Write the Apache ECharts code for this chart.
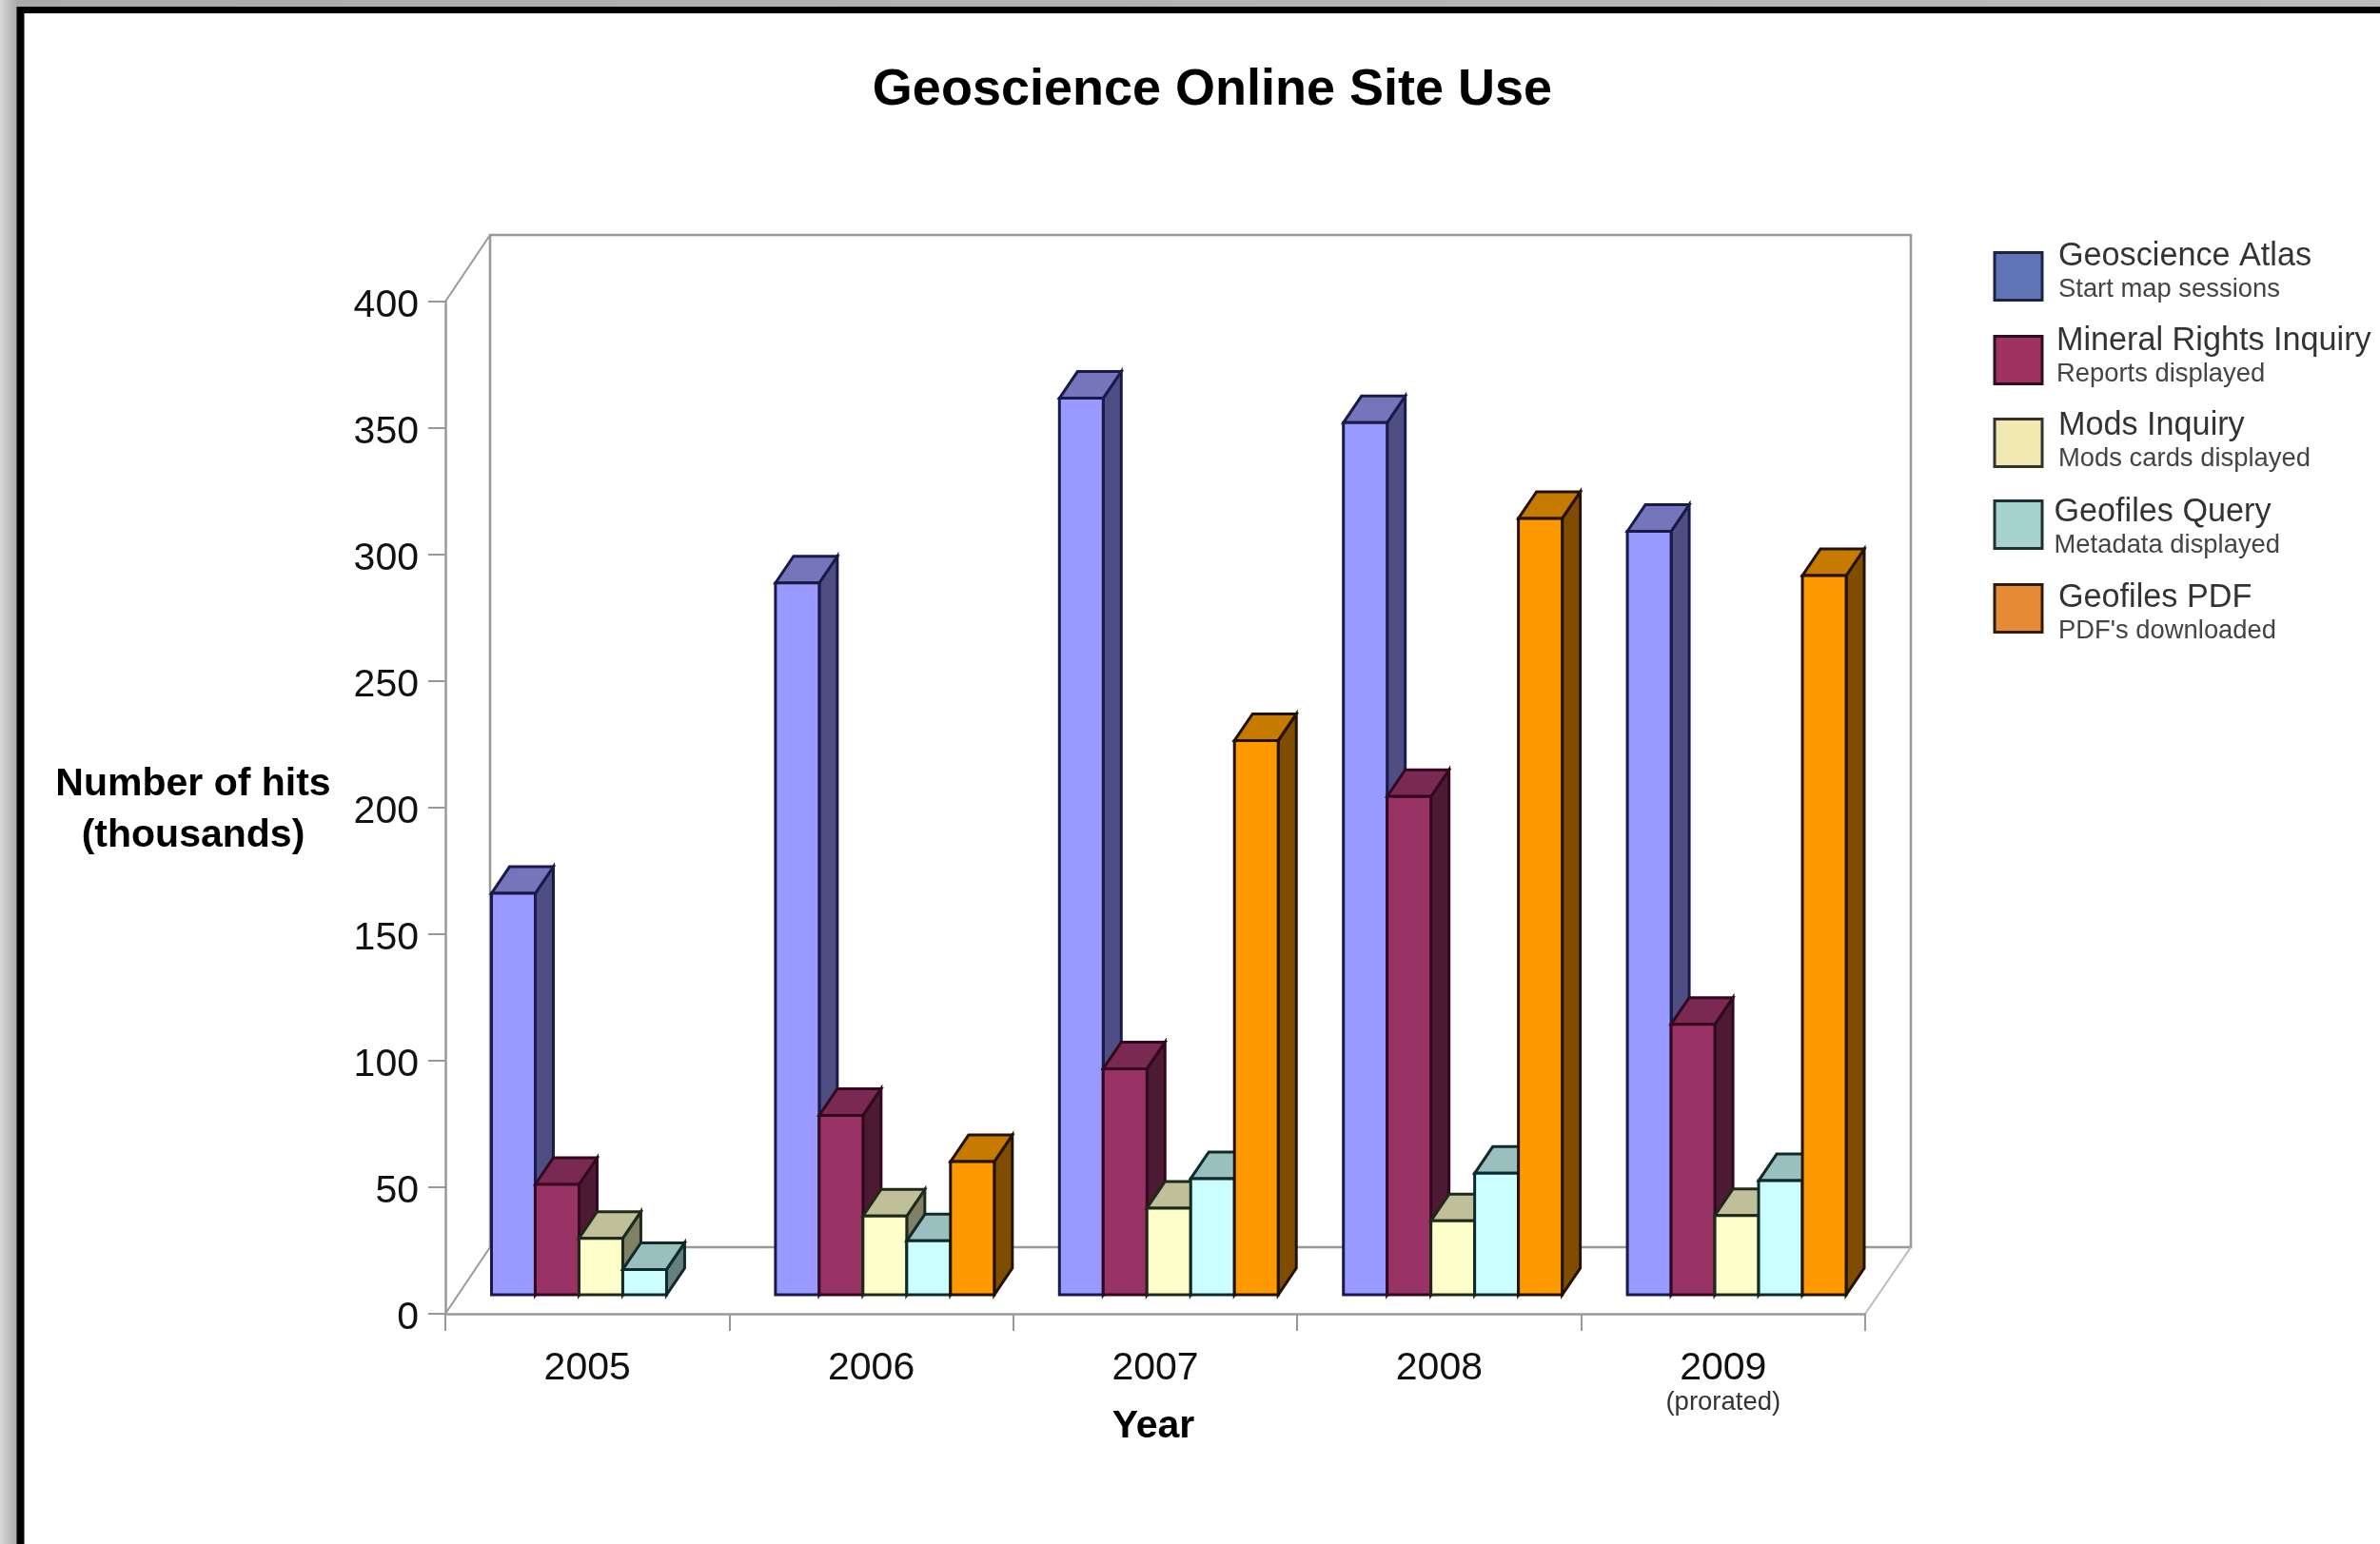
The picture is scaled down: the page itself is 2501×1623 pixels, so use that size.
<!DOCTYPE html>
<html>
<head>
<meta charset="utf-8">
<style>html,body{margin:0;padding:0;background:#fff}#c{width:2501px;height:1623px}</style>
<script src="https://cdn.jsdelivr.net/npm/echarts@6/dist/echarts.min.js"></script>
</head>
<body>
<div id="c"></div>
<script>
// ---- data ----
const titleText = 'Geoscience Online Site Use';
const categories = ['2005', '2006', '2007', '2008', '2009'];
const categoryNotes = { '2009': '(prorated)' };
const seriesNames = ['Geoscience Atlas', 'Mineral Rights Inquiry', 'Mods Inquiry', 'Geofiles Query', 'Geofiles PDF'];
const seriesNotes = ['Start map sessions', 'Reports displayed', 'Mods cards displayed', 'Metadata displayed', "PDF's downloaded"];
const atlas    = [158.6, 281.3, 354.3, 344.6, 301.7];
const mineral  = [43.6, 70.9, 89.3, 196.9, 106.9];
const mods     = [22.3, 31.1, 34.2, 29.2, 31.3];
const geoQuery = [10.0, 21.3, 45.9, 48.0, 45.1];
const geoPdf   = [null, 52.6, 219.0, 306.8, 284.2];
const yMin = 0, yMax = 400, yStep = 50;
const yNameLines = ['Number of hits', '(thousands)'];
const xName = 'Year';

// ---- styling ----
const seriesValues = [atlas, mineral, mods, geoQuery, geoPdf];
const FONT = '"Liberation Sans", Arial, sans-serif';
const faces = [
  { front: '#9999FF', top: '#7575BC', side: '#4E4E82', edge: '#1A1A4A' },
  { front: '#993366', top: '#7A2952', side: '#4D1A33', edge: '#33081E' },
  { front: '#FFFFCC', top: '#BFBF99', side: '#808066', edge: '#1E2A18' },
  { front: '#CCFFFF', top: '#99BFBF', side: '#668080', edge: '#0E2A2A' },
  { front: '#FF9900', top: '#C67A00', side: '#7F4C00', edge: '#241200' }
];
const swatches = [
  { color: '#6074B6', border: '#1C2444' },
  { color: '#A03262', border: '#2C1020' },
  { color: '#F0EAB2', border: '#33332A' },
  { color: '#A6D2D0', border: '#203034' },
  { color: '#E68A36', border: '#301A08' }
];
const AXIS = '#999999';
const BAR_RATIO = 46 / 298.5, DX = 19, DY = 28;
const rowCenter = [289, 377, 464, 551, 639];
const rowNudge = [3, 3, 3, 8, 12];
const textShift = [-4.5, -4, -1.5, 3, 5];
const textInset = [12, 10, 12, 7.5, 12];
const TEXT_H = 69;

function cuboid(seriesIdx) {
  return function (params, api) {
    const v = api.value(1);
    if (v == null || isNaN(v)) return;
    const cat = api.value(0);
    const top = api.coord([cat, v]);
    const base = api.coord([cat, 0]);
    const w = api.size([1, 0])[0] * BAR_RATIO;
    const x0 = top[0] + (seriesIdx - 2.5) * w;
    const x1 = x0 + w;
    const yT = top[1], yB = base[1];
    const f = faces[seriesIdx];
    const line = { stroke: f.edge, lineWidth: 3, lineJoin: 'miter' };
    return {
      type: 'group',
      children: [
        { type: 'polygon', shape: { points: [[x1, yT], [x1 + DX, yT - DY], [x1 + DX, yB - DY], [x1, yB]] },
          style: Object.assign({ fill: f.side }, line) },
        { type: 'polygon', shape: { points: [[x0, yT], [x0 + DX, yT - DY], [x1 + DX, yT - DY], [x1, yT]] },
          style: Object.assign({ fill: f.top }, line) },
        { type: 'rect', shape: { x: x0, y: yT, width: w, height: yB - yT },
          style: Object.assign({ fill: f.front }, line) }
      ]
    };
  };
}

const series = seriesNames.map((name, i) => ({
  name,
  type: 'custom',
  coordinateSystem: 'cartesian2d',
  xAxisIndex: 1,
  yAxisIndex: 1,
  z: 3 + i,
  itemStyle: { color: swatches[i].color },
  renderItem: cuboid(i),
  encode: { x: 0, y: 1 },
  data: categories.map((c, j) => [c, seriesValues[i][j]])
}));

const legends = seriesNames.map((name, i) => {
  const s = Math.abs(textShift[i]) * 2;
  return {
    data: [{ name, icon: 'rect', itemStyle: { color: swatches[i].color, borderColor: swatches[i].border, borderWidth: 3 } }],
    left: 2094.5,
    top: rowCenter[i] - (TEXT_H + s) / 2 + rowNudge[i],
    padding: 0,
    itemWidth: 50,
    itemHeight: 50,
    selectedMode: false,
    formatter: n => '{a|' + n + '}\n{b|' + seriesNotes[seriesNames.indexOf(n)] + '}',
    textStyle: {
      padding: [textShift[i] > 0 ? s : 0, 0, textShift[i] < 0 ? s : 0, textInset[i]],
      rich: {
        a: { fontFamily: FONT, fontSize: 34.2, lineHeight: 37, color: '#333333' },
        b: { fontFamily: FONT, fontSize: 27.4, lineHeight: 32, color: '#444444' }
      }
    }
  };
});

const option = {
  backgroundColor: '#ffffff',
  animation: false,
  title: {
    text: titleText, left: 1269, top: 63, textAlign: 'center',
    textStyle: { fontFamily: FONT, fontSize: 54, fontWeight: 'bold', color: '#000000' }
  },
  legend: legends,
  grid: [
    { left: 468, top: 317, width: 1492, height: 1064 },
    { left: 482.25, top: 297, width: 1492, height: 1064 }
  ],
  xAxis: [
    {
      gridIndex: 0, type: 'category', data: categories, boundaryGap: true,
      axisLine: { lineStyle: { color: AXIS, width: 2.5 } },
      axisTick: { show: true, alignWithLabel: false, length: 18, lineStyle: { color: AXIS, width: 2 } },
      axisLabel: {
        interval: 0, margin: 36,
        formatter: c => categoryNotes[c] ? '{y|' + c + '}\n{n|' + categoryNotes[c] + '}' : '{y|' + c + '}',
        rich: {
          y: { fontFamily: FONT, fontSize: 41, lineHeight: 43, color: '#111111' },
          n: { fontFamily: FONT, fontSize: 27.5, lineHeight: 29, color: '#333333' }
        }
      },
      name: xName, nameLocation: 'middle', nameGap: 98, nameMoveOverlap: false,
      nameTextStyle: { fontFamily: FONT, fontSize: 41, fontWeight: 'bold', color: '#000000', padding: [0, 4, 0, 0] }
    },
    { gridIndex: 1, type: 'category', data: categories, show: false }
  ],
  yAxis: [
    {
      gridIndex: 0, type: 'value', min: yMin, max: yMax, interval: yStep,
      splitLine: { show: false },
      axisLine: { show: true, lineStyle: { color: AXIS, width: 2.5 } },
      axisTick: { show: true, length: 18, lineStyle: { color: AXIS, width: 2 } },
      axisLabel: {
        margin: 28, formatter: '{v|{value}}',
        rich: { v: { fontFamily: FONT, fontSize: 41, lineHeight: 46, color: '#111111', padding: [9, 0, 0, 0] } }
      },
      name: '{t|' + yNameLines[0] + '}\n{b|' + yNameLines[1] + '}',
      nameLocation: 'middle', nameRotate: 0, nameGap: 265, nameMoveOverlap: false,
      nameTextStyle: {
        align: 'center', verticalAlign: 'middle',
        rich: {
          t: { fontFamily: FONT, fontSize: 41, fontWeight: 'bold', color: '#000000', lineHeight: 54, padding: [6, 0, 0, 0] },
          b: { fontFamily: FONT, fontSize: 41, fontWeight: 'bold', color: '#000000', lineHeight: 54, padding: [6, 0, 0, 0] }
        }
      }
    },
    { gridIndex: 1, type: 'value', min: yMin, max: yMax, interval: yStep, show: false }
  ],
  series,
  graphic: [
    // page frame
    { type: 'rect', z: -20, shape: { x: 0, y: 0, width: 2501, height: 1623 },
      style: { fill: { type: 'linear', x: 0, y: 0, x2: 1, y2: 0, colorStops: [{ offset: 0, color: '#D8D8D8' }, { offset: 0.007, color: '#ABABAB' }, { offset: 1, color: '#BBBBBB' }] } } },
    { type: 'rect', z: -19, shape: { x: 17.5, y: 7, width: 2484, height: 1616 }, style: { fill: '#000000' } },
    { type: 'rect', z: -18, shape: { x: 25.5, y: 14, width: 2476, height: 1609 }, style: { fill: '#ffffff' } },
    // 3D box of the plot
    { type: 'rect', z: -10, shape: { x: 515, y: 247, width: 1493, height: 1064 }, style: { fill: 'none', stroke: AXIS, lineWidth: 2.5 } },
    { type: 'line', z: -10, shape: { x1: 468, y1: 317, x2: 515, y2: 247 }, style: { stroke: AXIS, lineWidth: 2 } },
    { type: 'line', z: -10, shape: { x1: 468, y1: 1381, x2: 515, y2: 1311 }, style: { stroke: AXIS, lineWidth: 2 } },
    { type: 'line', z: -10, shape: { x1: 1960, y1: 1381, x2: 2008, y2: 1311 }, style: { stroke: '#BBBBBB', lineWidth: 2 } }
  ]
};

const chart = echarts.init(document.getElementById('c'), null, { renderer: 'canvas', width: 2501, height: 1623 });
chart.setOption(option);
</script>
</body>
</html>
